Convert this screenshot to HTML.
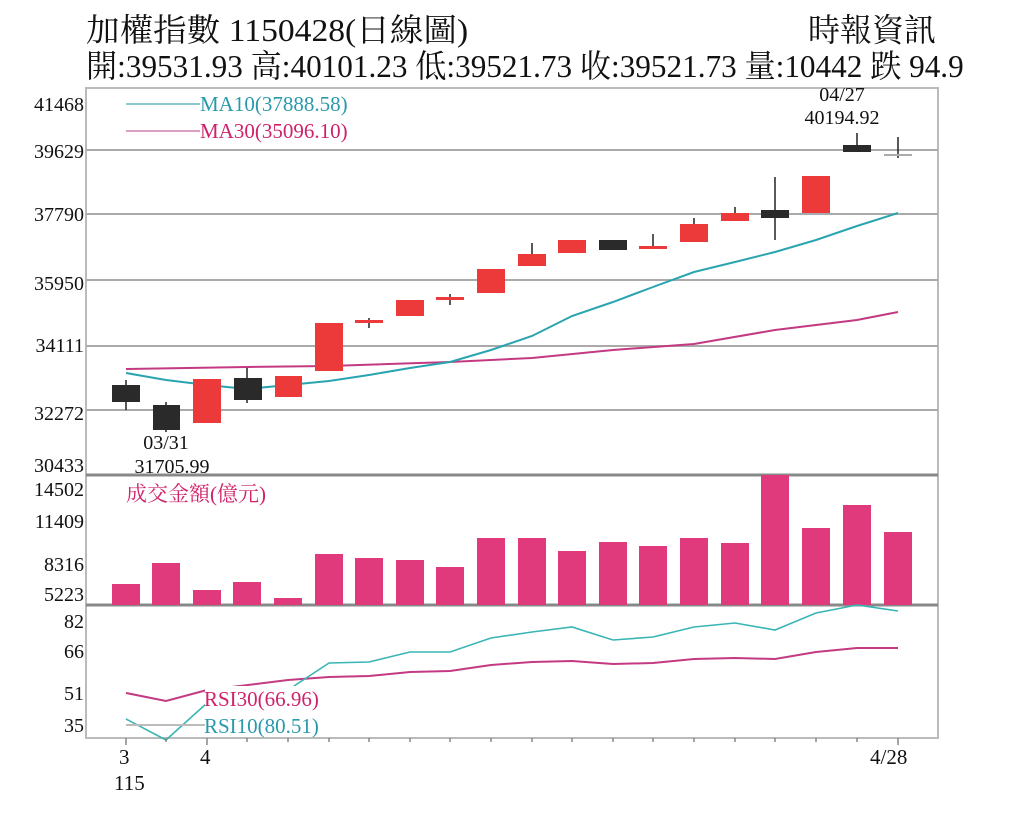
<!DOCTYPE html>
<html><head><meta charset="utf-8"><style>
body{margin:0;background:#fff;width:1024px;height:820px;overflow:hidden}
svg text{font-family:"Liberation Serif","Noto Serif CJK SC","Noto Sans CJK TC",serif}
</style></head><body>
<svg width="1024" height="820" viewBox="0 0 1024 820" xmlns="http://www.w3.org/2000/svg">
<g font-size="32" fill="#111">
<text x="86" y="41" transform="translate(86 0) scale(1.05 1) translate(-86 0)">加權指數 1150428(日線圖)</text>
<text x="808" y="41">時報資訊</text>
<text x="86" y="77" transform="translate(86 0) scale(0.975 1) translate(-86 0)">開:39531.93 高:40101.23 低:39521.73 收:39521.73 量:10442 跌 94.9</text>
</g>
<rect x="86" y="88" width="852" height="650" fill="none" stroke="#bbb" stroke-width="2"/>
<g stroke="#aaa" stroke-width="2">
<line x1="86" y1="150" x2="938" y2="150"/><line x1="86" y1="214" x2="938" y2="214"/>
<line x1="86" y1="280" x2="938" y2="280"/><line x1="86" y1="346" x2="938" y2="346"/>
<line x1="86" y1="410" x2="938" y2="410"/>
</g>
<g stroke="#888" stroke-width="3"><line x1="86" y1="475" x2="938" y2="475"/><line x1="86" y1="605" x2="938" y2="605"/></g>
<g font-size="20" fill="#111" text-anchor="end">
<text x="84" y="111">41468</text><text x="84" y="158">39629</text><text x="84" y="221">37790</text>
<text x="84" y="290">35950</text><text x="84" y="352">34111</text><text x="84" y="420">32272</text>
<text x="84" y="472">30433</text>
<text x="84" y="496">14502</text><text x="84" y="528">11409</text><text x="84" y="571">8316</text><text x="84" y="601">5223</text>
<text x="84" y="628">82</text><text x="84" y="658">66</text><text x="84" y="700">51</text><text x="84" y="732">35</text>
</g>
<line x1="126" y1="104" x2="200" y2="104" stroke="#8cc8cc" stroke-width="2"/>
<line x1="126" y1="131" x2="200" y2="131" stroke="#d9a0c0" stroke-width="2"/>
<text x="200" y="111" font-size="21" fill="#2a9aab">MA10(37888.58)</text>
<text x="200" y="138" font-size="21" fill="#d0226a">MA30(35096.10)</text>
<g font-size="20" fill="#111" text-anchor="middle">
<text x="842" y="101">04/27</text><text x="842" y="124">40194.92</text>
<text x="166" y="449">03/31</text><text x="172" y="473">31705.99</text>
</g>
<polyline fill="none" stroke="#c33a82" stroke-width="2" points="126,369 247,367 329,366 450,362 532,358 613,350 694,344 775,330 857,320 898,312"/>
<polyline fill="none" stroke="#2aa5b0" stroke-width="2" points="126,373 166,380 207,385 247,389 288,385 329,381 369,375 410,368 450,362 491,350 532,336 572,316 613,302 653,287 694,272 735,262 775,252 816,240 857,226 898,213"/>
<g stroke="#222" stroke-width="1.5">
<line x1="126" y1="380" x2="126" y2="410"/><line x1="166" y1="402" x2="166" y2="432"/>
<line x1="247" y1="368" x2="247" y2="403"/><line x1="369" y1="318" x2="369" y2="328"/>
<line x1="450" y1="294" x2="450" y2="305"/><line x1="532" y1="243" x2="532" y2="266"/>
<line x1="653" y1="234" x2="653" y2="249"/><line x1="694" y1="218" x2="694" y2="242"/>
<line x1="735" y1="207" x2="735" y2="221"/><line x1="775" y1="177" x2="775" y2="240"/>
<line x1="857" y1="133" x2="857" y2="152"/><line x1="898" y1="137" x2="898" y2="158"/>
</g>
<g fill="#2a2a2a">
<rect x="112" y="385" width="28" height="17"/><rect x="153" y="405" width="27" height="25"/>
<rect x="234" y="378" width="28" height="22"/><rect x="599" y="240" width="28" height="10"/>
<rect x="761" y="210" width="28" height="8"/><rect x="843" y="145" width="28" height="7"/>
</g>
<g fill="#ec3a3a">
<rect x="193" y="379" width="28" height="44"/><rect x="275" y="376" width="27" height="21"/>
<rect x="315" y="323" width="28" height="48"/><rect x="355" y="320" width="28" height="3"/>
<rect x="396" y="300" width="28" height="16"/><rect x="436" y="297" width="28" height="3"/>
<rect x="477" y="269" width="28" height="24"/><rect x="518" y="254" width="28" height="12"/>
<rect x="558" y="240" width="28" height="13"/><rect x="639" y="246" width="28" height="3"/>
<rect x="680" y="224" width="28" height="18"/><rect x="721" y="213" width="28" height="8"/>
<rect x="802" y="176" width="28" height="37"/>
</g>
<rect x="884" y="154" width="28" height="2" fill="#aaa"/>
<text x="126" y="501" font-size="21" fill="#d0226a">成交金額(億元)</text>
<g fill="#e03a7d">
<rect x="112" y="584" width="28" height="21"/><rect x="152" y="563" width="28" height="42"/>
<rect x="193" y="590" width="28" height="15"/><rect x="233" y="582" width="28" height="23"/>
<rect x="274" y="598" width="28" height="7"/><rect x="315" y="554" width="28" height="51"/>
<rect x="355" y="558" width="28" height="47"/><rect x="396" y="560" width="28" height="45"/>
<rect x="436" y="567" width="28" height="38"/><rect x="477" y="538" width="28" height="67"/>
<rect x="518" y="538" width="28" height="67"/><rect x="558" y="551" width="28" height="54"/>
<rect x="599" y="542" width="28" height="63"/><rect x="639" y="546" width="28" height="59"/>
<rect x="680" y="538" width="28" height="67"/><rect x="721" y="543" width="28" height="62"/>
<rect x="761" y="475" width="28" height="130"/><rect x="802" y="528" width="28" height="77"/>
<rect x="843" y="505" width="28" height="100"/><rect x="884" y="532" width="28" height="73"/>
</g>
<polyline fill="none" stroke="#c33a82" stroke-width="2" points="126,693 166,701 207,690 288,680 329,677 369,676 410,672 450,671 491,665 532,662 572,661 613,664 653,663 694,659 735,658 775,659 816,652 857,648 898,648"/>
<polyline fill="none" stroke="#3ab5b5" stroke-width="1.6" points="126,719 166,740 207,703 288,690 329,663 369,662 410,652 450,652 491,638 532,632 572,627 613,640 653,637 694,627 735,623 775,630 816,613 857,605 898,611"/>
<rect x="205" y="686" width="92" height="51" fill="#fff"/>
<line x1="126" y1="725" x2="205" y2="725" stroke="#bbb" stroke-width="2"/>
<text x="204" y="706" font-size="21" fill="#d0226a">RSI30(66.96)</text>
<text x="204" y="733" font-size="21" fill="#2a9aab">RSI10(80.51)</text>
<g stroke="#888" stroke-width="1.5">
<line x1="126" y1="738" x2="126" y2="745"/><line x1="166" y1="738" x2="166" y2="742"/><line x1="207" y1="738" x2="207" y2="745"/>
<line x1="247" y1="738" x2="247" y2="742"/><line x1="288" y1="738" x2="288" y2="742"/><line x1="329" y1="738" x2="329" y2="742"/>
<line x1="369" y1="738" x2="369" y2="742"/><line x1="410" y1="738" x2="410" y2="742"/><line x1="450" y1="738" x2="450" y2="742"/>
<line x1="491" y1="738" x2="491" y2="742"/><line x1="532" y1="738" x2="532" y2="742"/><line x1="572" y1="738" x2="572" y2="742"/>
<line x1="613" y1="738" x2="613" y2="742"/><line x1="653" y1="738" x2="653" y2="742"/><line x1="694" y1="738" x2="694" y2="742"/>
<line x1="735" y1="738" x2="735" y2="742"/><line x1="775" y1="738" x2="775" y2="742"/><line x1="816" y1="738" x2="816" y2="742"/>
<line x1="857" y1="738" x2="857" y2="742"/><line x1="898" y1="738" x2="898" y2="745"/>
</g>
<g font-size="21" fill="#111">
<text x="119" y="764">3</text><text x="200" y="764">4</text><text x="114" y="790">115</text><text x="870" y="764">4/28</text>
</g>
</svg>
</body></html>
